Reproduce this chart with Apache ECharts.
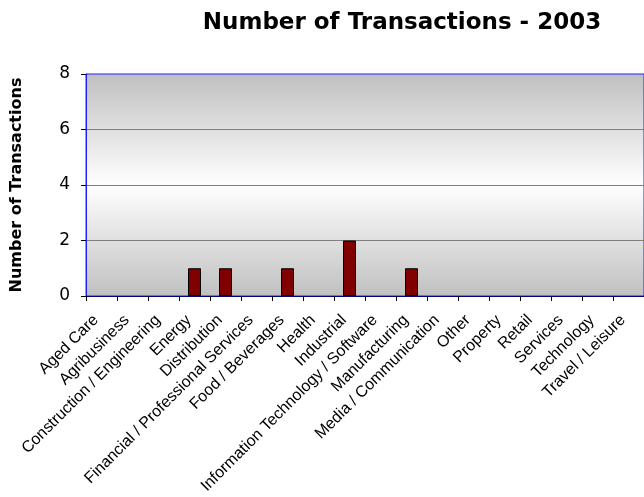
<!DOCTYPE html>
<html>
<head>
<meta charset="utf-8">
<script src="https://cdn.jsdelivr.net/npm/echarts@6/dist/echarts.min.js"></script>
<style>
  html, body { margin: 0; padding: 0; background: #ffffff; }
  #chart { width: 644px; height: 497px; }
</style>
</head>
<body>
<div id="chart"></div>
<script>
// Sectors on the category axis
const categories = [
  'Aged Care', 'Agribusiness', 'Construction / Engineering', 'Energy',
  'Distribution', 'Financial / Professional Services', 'Food / Beverages',
  'Health', 'Industrial', 'Information Technology / Software',
  'Manufacturing', 'Media / Communication', 'Other', 'Property',
  'Retail', 'Services', 'Technology', 'Travel / Leisure'
];
// Transactions per sector in 2003
const transactions = [0, 0, 0, 1, 1, 0, 1, 0, 2, 0, 1, 0, 0, 0, 0, 0, 0, 0];
// Value axis range
const yMin = 0;
const yMax = 8;
const yStep = 2;

const chart = echarts.init(document.getElementById('chart'), null, { renderer: 'canvas' });

// Empty sectors get no outline so nothing is drawn on the baseline
const barData = transactions.map(v => ({
  value: v,
  itemStyle: { borderWidth: v === 0 ? 0 : 1 }
}));

chart.setOption({
  animation: false,
  title: {
    text: 'Number of Transactions - 2003',
    left: 397,
    top: 7,
    textAlign: 'center',
    textStyle: {
      fontFamily: 'DejaVu Sans',
      fontWeight: 'bold',
      fontSize: 23,
      color: '#000000'
    }
  },
  grid: {
    left: 86,
    top: 74,
    width: 559,
    height: 222,
    show: true,
    borderColor: '#2020ff',
    borderWidth: 1,
    backgroundColor: new echarts.graphic.LinearGradient(0, 0, 0, 1, [
      { offset: 0, color: '#c0c0c0' },
      { offset: 0.5, color: '#ffffff' },
      { offset: 1, color: '#c0c0c0' }
    ])
  },
  xAxis: {
    type: 'category',
    data: categories,
    boundaryGap: true,
    axisLine: { show: true, lineStyle: { color: '#000080', width: 1 } },
    axisTick: { show: true, length: 5, lineStyle: { color: '#000000' } },
    axisLabel: {
      interval: 0,
      rotate: 45,
      margin: 16,
      padding: [0, 8, 0, 0],
      fontFamily: 'Liberation Sans',
      fontSize: 16,
      color: '#000000'
    },
    splitLine: { show: false }
  },
  yAxis: {
    type: 'value',
    min: yMin,
    max: yMax,
    interval: yStep,
    name: 'Number of Transactions',
    nameLocation: 'middle',
    nameRotate: 90,
    nameGap: 61,
    nameMoveOverlap: false,
    nameTextStyle: {
      fontFamily: 'DejaVu Sans',
      fontWeight: 'bold',
      fontSize: 16,
      color: '#000000'
    },
    axisLine: { show: true, lineStyle: { color: '#2020ff', width: 1 } },
    axisTick: { show: true, length: 5, lineStyle: { color: '#000000' } },
    axisLabel: {
      margin: 16,
      fontFamily: 'DejaVu Sans',
      fontSize: 17,
      color: '#000000'
    },
    splitLine: {
      show: true,
      showMinLine: false,
      showMaxLine: false,
      lineStyle: { color: '#808080', width: 1 }
    }
  },
  series: [{
    type: 'bar',
    data: barData,
    barWidth: 13,
    itemStyle: {
      color: '#800000',
      borderColor: '#000000',
      borderWidth: 1
    }
  }]
});
</script>
</body>
</html>
